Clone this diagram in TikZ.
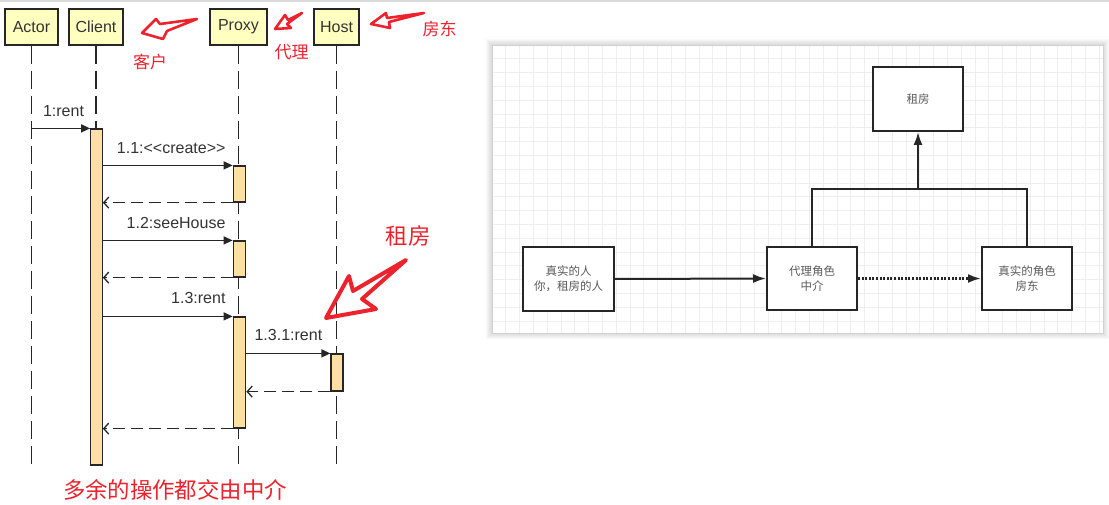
\documentclass[tikz,border=0pt]{standalone}
\usepackage{fontspec}
\setmainfont{Liberation Sans}
\newfontfamily\cjk{Noto Sans CJK SC}
\usetikzlibrary{arrows.meta,calc}
\definecolor{lifefill}{HTML}{FFFFC0}
\definecolor{actfill}{HTML}{FFDFA3}
\definecolor{redmark}{RGB}{236,34,44}
\definecolor{txtgray}{HTML}{333333}
\definecolor{gridc}{HTML}{EEEEEE}
\begin{document}
\begin{tikzpicture}[x=1pt,y=-1pt,
  headbox/.style={draw=black!85, line width=1.4pt, fill=lifefill, minimum height=36pt, inner sep=0pt, font=\fontsize{16}{19}\selectfont, text=txtgray},
  lifeline/.style={draw=black!85, line width=1.3pt, dash pattern=on 18pt off 7pt},
  actbar/.style={draw=black!85, line width=1.2pt, fill=actfill, inner sep=0pt},
  msg/.style={draw=black!85, line width=1.2pt, -{Triangle[length=9pt,width=8pt]}},
  ret/.style={draw=black!85, line width=1.3pt, dash pattern=on 12pt off 6pt, -{Straight Barb[length=5pt,width=11pt]}},
  msglabel/.style={anchor=east, font=\fontsize{16}{19}\selectfont, text=txtgray, inner sep=0pt},
  redtxt/.style={text=redmark, inner sep=0pt, font=\cjk\fontsize{17}{20}\selectfont},
  bigred/.style={text=redmark, inner sep=0pt, font=\cjk\fontsize{22.4}{26}\selectfont},
  redarrow/.style={draw=redmark, line width=2.6pt, line join=round, line cap=round},
  rbox/.style={draw=black!85, line width=2pt, fill=white, text=black!65, font=\cjk\fontsize{11.5}{15}\selectfont, align=center, inner sep=0pt},
  rline/.style={draw=black!85, line width=2pt},
  rtip/.style={-{Latex[length=13pt,width=9pt]}},
  gridline/.style={draw=gridc, line width=0.7pt}
]
\useasboundingbox (0,0) rectangle (1109,505);
% top rule
\draw[black!15, line width=1.5pt] (0,1) -- (1109,1);

% ---------- sequence diagram ----------
\node[headbox, minimum width=53pt] (actor) at (31.5,27) {Actor};
\node[headbox, minimum width=54pt] (client) at (96,27) {Client};
\node[headbox, minimum width=57pt] (proxy) at (238.5,27) {Proxy};
\node[headbox, minimum width=45pt] (host) at (336.5,27) {Host};
\coordinate (bottom) at (0,466);
\draw[lifeline] (actor.south) -- (actor.south |- bottom);
\draw[lifeline] (client.south) -- (client.south |- bottom);
\draw[lifeline] (proxy.south) -- (proxy.south |- bottom);
\draw[lifeline] (host.south) -- (host.south |- bottom);

\node[actbar, minimum width=11.5pt, minimum height=336pt] (cb) at (96.5,297) {};
\node[actbar, minimum width=12.5pt, minimum height=36pt] (pb1) at (239.5,184) {};
\node[actbar, minimum width=12.5pt, minimum height=36pt] (pb2) at (239.5,259) {};
\node[actbar, minimum width=12.5pt, minimum height=111pt] (pb3) at (239.5,372.5) {};
\node[actbar, minimum width=12pt, minimum height=37pt] (hb) at (337,372.5) {};

\draw[msg] (actor.south |- cb.north west) -- (cb.north west);
\node[msglabel] (l1) at ($(cb.north west)+(-6,-17)$) {1:rent};
\draw[msg] (cb.east |- pb1.north west) -- (pb1.north west);
\node[msglabel] (l2) at ($(pb1.north west)+(-7,-17)$) {1.1:<\kern0pt<create>\kern0pt>};
\draw[ret] (pb1.south west) -- (cb.east |- pb1.south west);
\draw[msg] (cb.east |- pb2.north west) -- (pb2.north west);
\node[msglabel] (l3) at ($(pb2.north west)+(-7,-17)$) {1.2:seeHouse};
\draw[ret] (pb2.south west) -- (cb.east |- pb2.south west);
\draw[msg] (cb.east |- pb3.north west) -- (pb3.north west);
\node[msglabel] (l4) at ($(pb3.north west)+(-7,-18)$) {1.3:rent};
\draw[msg] (pb3.east |- hb.north west) -- (hb.north west);
\node[msglabel] (l5) at ($(hb.north west)+(-8,-18)$) {1.3.1:rent};
\draw[ret] (hb.south west) -- (pb3.east |- hb.south west);
\draw[ret] (pb3.south west) -- (cb.east |- pb3.south west);

% red annotations
\node[redtxt] (kehu) at (150,62) {客户};
\node[redtxt] (daili) at (291.5,52) {代理};
\node[redtxt] (fangdong) at (439.5,29) {房东};
\node[bigred] (zufang) at (408,236) {租房};
\node[bigred] (note) at (175,490) {多余的操作都交由中介};

\draw[redarrow] (197,19) -- (160,24) -- (156,19) -- (142,33) -- (163,39) -- (167,31) -- cycle;
\draw[redarrow] (302,13) -- (288,20) -- (285,15) -- (275,29) -- (291,28) -- (287,24) -- cycle;
\draw[redarrow] (424,13) -- (387,18) -- (386,13) -- (371,24) -- (390,28) -- (389,22) -- cycle;
\draw[redarrow, line width=4pt] (406,260) -- (353,291) -- (349,276) -- (326,318) -- (376,309) -- (362,299) -- cycle;

% ---------- right panel ----------
\foreach \w in {2,4,6,8,10,12}{
  \draw[black, opacity=0.025, line width=\w pt] (492,45) rectangle (1103,333);
}
\fill[white] (492,45) rectangle (1103,333);
\foreach \i in {0,...,44}{
  \draw[gridline] (492+\i*13.8,45) -- ++(0,288);
}
\foreach \j in {0,...,20}{
  \draw[gridline] (492,45+\j*13.8) -- ++(611,0);
}
\draw[black!18, line width=0.6pt] (492,45) rectangle (1103,333);

\node[rbox, minimum width=91pt, minimum height=64pt] (real) at (568.5,279) {真实的人\\你，租房的人};
\node[rbox, minimum width=90pt, minimum height=63pt] (agent) at (812,278.5) {代理角色\\中介};
\node[rbox, minimum width=90pt, minimum height=63pt] (landlord) at (1027,278.5) {真实的角色\\房东};
\node[rbox, minimum width=90pt, minimum height=64pt] (rent) at (918,99) {租房};

\draw[rline, rtip] (real.east) -- (agent.west);
\draw[rline, rtip, line width=2.4pt, dash pattern=on 2pt off 1.6pt] (agent.east) -- (landlord.west);
\coordinate (j) at (918,189);
\draw[rline] (agent.north) |- (j) -| (landlord.north);
\draw[rline, rtip] (j) -- (rent.south);
\end{tikzpicture}
\end{document}
